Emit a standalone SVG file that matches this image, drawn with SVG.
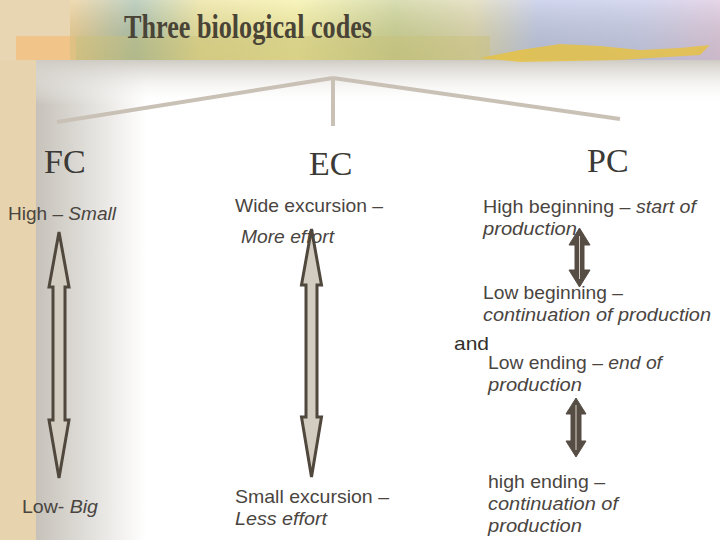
<svg xmlns="http://www.w3.org/2000/svg" width="720" height="540" viewBox="0 0 720 540">
<defs>
<style>
.t{font-family:"Liberation Sans",Arial,sans-serif;font-size:18.5px;fill:#4a453f}
.i{font-style:italic}
.h{font-family:"Liberation Serif","Times New Roman",serif;font-size:34px;fill:#3c3a36}
.conn{stroke:#c9c1b5;stroke-width:4;fill:none;stroke-linecap:butt}
.dbl{fill:#d3ccc1;stroke:#50473d;stroke-width:3;stroke-linejoin:miter}
.sol{fill:#564d44;stroke:#564d44;stroke-width:1}
.mid{stroke:#d8d0c4;stroke-width:1}
</style>
<linearGradient id="lg" x1="0" y1="0" x2="1" y2="0">
<stop offset="0" stop-color="#c6c2ba"/><stop offset="1" stop-color="#ffffff"/>
</linearGradient>
<linearGradient id="tg" x1="0" y1="0" x2="0" y2="1">
<stop offset="0" stop-color="#cfcbc4"/><stop offset="1" stop-color="#ffffff" stop-opacity="0"/>
</linearGradient>
<linearGradient id="bn" x1="0" y1="0" x2="1" y2="0">
<stop offset="0" stop-color="#e9c88a"/>
<stop offset="0.1" stop-color="#9fb9a4"/>
<stop offset="0.2" stop-color="#e9de90"/>
<stop offset="0.35" stop-color="#f4ee9a"/>
<stop offset="0.5" stop-color="#c5cc8a"/>
<stop offset="0.62" stop-color="#d9d2a8"/>
<stop offset="0.72" stop-color="#b7c0e4"/>
<stop offset="0.88" stop-color="#c0c4e8"/>
<stop offset="1" stop-color="#d8c0dc"/>
</linearGradient>
<linearGradient id="bd" x1="0" y1="0" x2="0" y2="1">
<stop offset="0" stop-color="#ffffff" stop-opacity="0.35"/>
<stop offset="1" stop-color="#8a8a60" stop-opacity="0.15"/>
</linearGradient>
</defs>
<g id="background">
<rect x="0" y="0" width="720" height="540" fill="#ffffff"/>
<rect x="36" y="60" width="110" height="480" fill="url(#lg)"/>
<rect x="36" y="60" width="684" height="45" fill="url(#tg)"/>
<rect x="0" y="0" width="36" height="540" fill="#e7d4ae"/>
<rect x="0" y="0" width="110" height="60" fill="#e8d6b2"/>
<rect x="70" y="0" width="650" height="60" fill="url(#bn)"/>
<rect x="70" y="0" width="650" height="60" fill="url(#bd)"/>
<rect x="16" y="36" width="60" height="24" fill="#f1c48a"/>
<rect x="70" y="36" width="420" height="24" fill="#c9c07a" opacity="0.45"/>
<path d="M480 58 L520 50 L560 44 L600 46 L640 50 L680 48 L710 45 L700 55 L620 60 L520 62 Z" fill="#e9c23c" opacity="0.8"/>
</g>
<g id="title">
<text x="248" y="38" text-anchor="middle" font-family="'Liberation Serif','Times New Roman',serif" font-weight="bold" font-size="34" fill="#4a4437" textLength="248" lengthAdjust="spacingAndGlyphs">Three biological codes</text>
</g>
<g id="connectors">
<line class="conn" x1="333" y1="78" x2="57" y2="122"/>
<line class="conn" x1="333" y1="78" x2="333" y2="126"/>
<line class="conn" x1="333" y1="78" x2="620" y2="119"/>
<path class="dbl" d="M59 232 L69 287 L65 287 L65 420 L69 420 L59 478 L49 420 L53 420 L53 287 L49 287 Z"/>
<path class="dbl" d="M311.5 229 L321.5 285 L317 285 L317 417 L321.5 417 L311.5 477 L301.5 417 L306 417 L306 285 L301.5 285 Z"/>
<path class="sol" d="M579.5 228 L590 245 L584 245 L584 270 L590 270 L579.5 287 L569 270 L575 270 L575 245 L569 245 Z"/>
<line class="mid" x1="579.5" y1="236" x2="579.5" y2="279"/>
<path class="sol" d="M576 398 L586 414 L581 414 L581 441 L586 441 L576 457 L566 441 L571 441 L571 414 L566 414 Z"/>
<line class="mid" x1="576" y1="405" x2="576" y2="450"/>
</g>
<g id="fc">
<text class="h" x="44" y="173">FC</text>
<text class="t" x="8" y="220" textLength="108" lengthAdjust="spacingAndGlyphs">High – <tspan class="i">Small</tspan></text>
<text class="t" x="22" y="513" textLength="76" lengthAdjust="spacingAndGlyphs">Low- <tspan class="i">Big</tspan></text>
</g>
<g id="ec">
<text class="h" x="309" y="175">EC</text>
<text class="t" x="235" y="212" textLength="148" lengthAdjust="spacingAndGlyphs">Wide excursion –</text>
<text class="t i" x="241" y="243" textLength="93" lengthAdjust="spacingAndGlyphs">More effort</text>
<text class="t" x="235" y="503" textLength="154" lengthAdjust="spacingAndGlyphs">Small excursion –</text>
<text class="t i" x="235" y="525" textLength="92" lengthAdjust="spacingAndGlyphs">Less effort</text>
</g>
<g id="pc">
<text class="h" x="587" y="172">PC</text>
<text class="t" x="483" y="213" textLength="213" lengthAdjust="spacingAndGlyphs">High beginning – <tspan class="i">start of</tspan></text>
<text class="t i" x="483" y="235" textLength="94" lengthAdjust="spacingAndGlyphs">production</text>
<text class="t" x="483" y="299" textLength="140" lengthAdjust="spacingAndGlyphs">Low beginning –</text>
<text class="t i" x="483" y="321" textLength="228" lengthAdjust="spacingAndGlyphs">continuation of production</text>
<text class="t" x="454" y="350" style="fill:#33302c" textLength="35" lengthAdjust="spacingAndGlyphs">and</text>
<text class="t" x="488" y="369" textLength="174" lengthAdjust="spacingAndGlyphs">Low ending – <tspan class="i">end of</tspan></text>
<text class="t i" x="488" y="391" textLength="94" lengthAdjust="spacingAndGlyphs">production</text>
<text class="t" x="488" y="488" textLength="117" lengthAdjust="spacingAndGlyphs">high ending –</text>
<text class="t i" x="488" y="510" textLength="130" lengthAdjust="spacingAndGlyphs">continuation of</text>
<text class="t i" x="488" y="532" textLength="94" lengthAdjust="spacingAndGlyphs">production</text>
</g>
</svg>
